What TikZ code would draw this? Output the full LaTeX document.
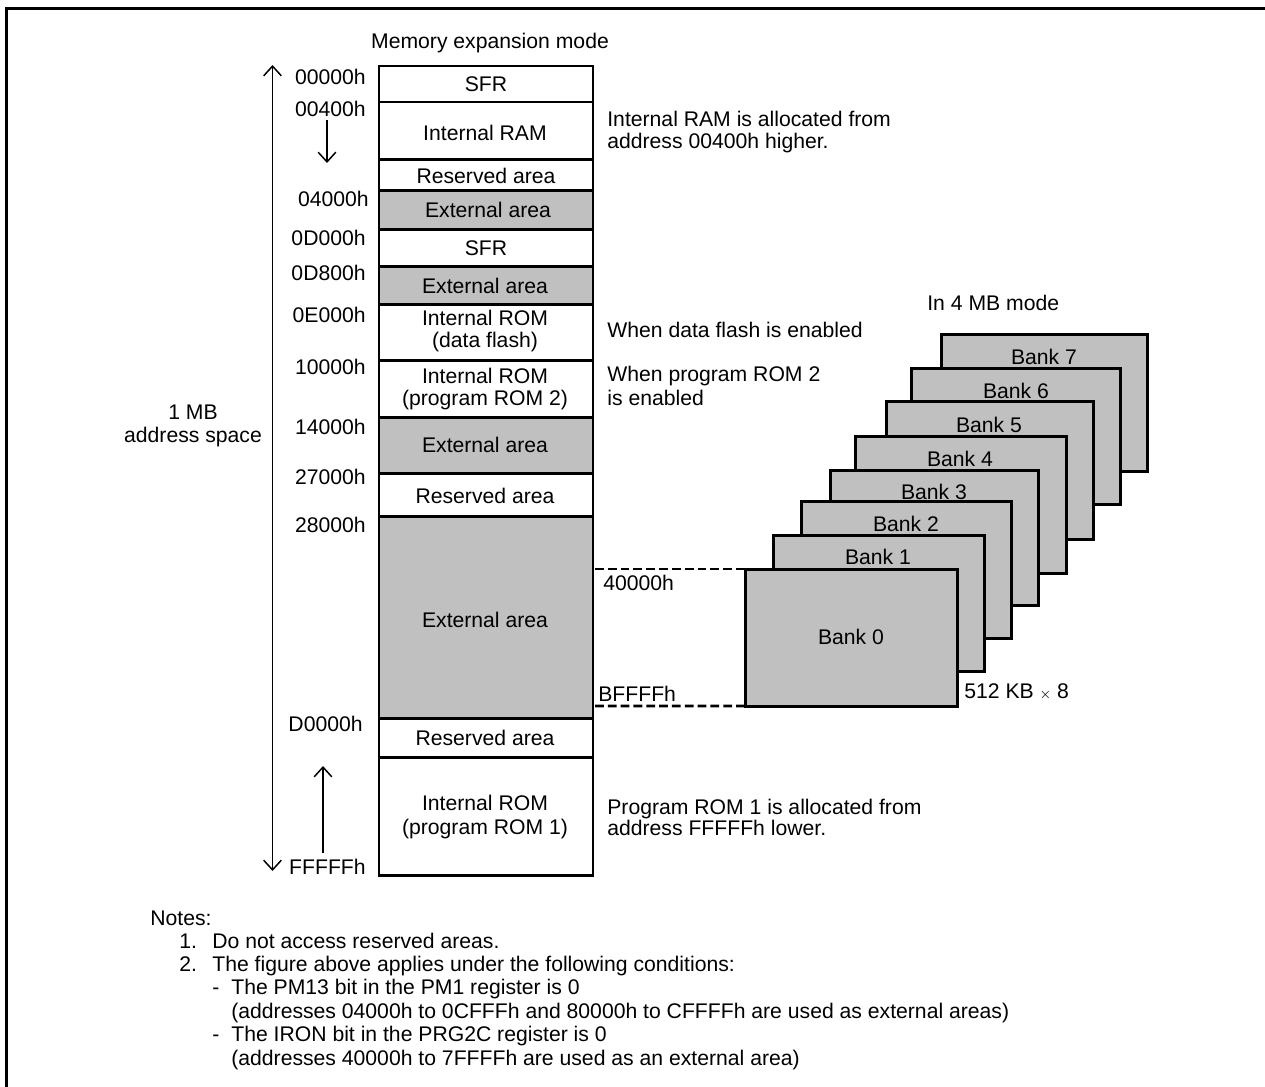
\documentclass[tikz,border=0pt]{standalone}
\usepackage{fontspec}
\setmainfont{Liberation Sans}
\usetikzlibrary{arrows.meta}
\tikzset{
  memrow/.style={draw=black,line width=1.7pt,inner sep=0pt,outer sep=0pt},
  bankbox/.style={draw=black,fill=extgray,line width=1.7pt,inner sep=0pt,outer sep=0pt},
  txt/.style={inner sep=0pt,font=\fontsize{12.05}{13.3}\selectfont,text=black},
  addr/.style={txt,anchor=east},
  note/.style={txt,anchor=west},
  remark/.style={txt,anchor=base west},
  thinarrow/.style={line width=0.85pt,{Straight Barb[length=5.5pt,width=10pt]}-{Straight Barb[length=5.5pt,width=10pt]}},
  onearrow/.style={line width=0.85pt,-{Straight Barb[length=5.5pt,width=10pt]}},
  dashline/.style={line width=1.5pt,dash pattern=on 5pt off 2.3pt}
}
\definecolor{extgray}{HTML}{C0C0C0}
\begin{document}
\begin{tikzpicture}[x=0.02cm,y=-0.02cm]
\useasboundingbox (0,0) rectangle (1265,1086);
% outer frame
\draw [black,line width=1.7pt] (6.5,1090) -- (6.5,8.5) -- (1270,8.5);
% memory map
\foreach \n/\t/\b/\c in {sfra/66/102/white,ram/102/159/white,resa/159/190/white,exta/190/229/extgray,
    sfrb/229/266/white,extb/266/304/extgray,rdata/304/360/white,rprog/360/417/white,extc/417/473/extgray,
    resb/473/516/white,extd/516/718/extgray,resc/718/757/white,rone/757/875/white}
  \node [memrow,fill=\c,minimum width=214*0.02cm,minimum height=(\b-\t)*0.02cm] (\n) at (486,{(\t+\b)/2}) {};
\node [txt] (lsfra) at (486,84) {SFR};
\node [txt] (lram) at (485,133) {Internal RAM};
\node [txt] (lresa) at (486,176) {Reserved area};
\node [txt] (lexta) at (488,210) {External area};
\node [txt] (lsfrb) at (486,248) {SFR};
\node [txt] (lextb) at (485,286) {External area};
\node [txt,align=center] (lrdata) at (485,331) {Internal ROM\\[-1pt](data flash)};
\node [txt,align=center] (lrprog) at (485,389) {Internal ROM\\[-0.4pt](program ROM 2)};
\node [txt] (lextc) at (485,445) {External area};
\node [txt] (lresb) at (485,496) {Reserved area};
\node [txt] (lextd) at (485,620) {External area};
\node [txt] (lresc) at (485,738) {Reserved area};
\node [txt,align=center] (lrone) at (485,817) {Internal ROM\\(program ROM 1)};
\node [txt] (title) at (490,43) {Memory expansion mode};
% addresses
\node [addr] (a0) at (366,77) {00000h};
\node [addr] (a1) at (366,109) {00400h};
\node [addr] (a2) at (369,199) {04000h};
\node [addr] (a3) at (366,238) {0D000h};
\node [addr] (a4) at (366,273) {0D800h};
\node [addr] (a5) at (366,315) {0E000h};
\node [addr] (a6) at (366,367) {10000h};
\node [addr] (a7) at (366,427) {14000h};
\node [addr] (a8) at (366,477) {27000h};
\node [addr] (a9) at (366,525) {28000h};
\node [addr] (a10) at (363,724) {D0000h};
\node [addr] (a11) at (366,867) {FFFFFh};
% arrows
\coordinate (spantop) at (272.5,65);
\coordinate (spanbot) at (272.5,871);
\coordinate (ramtop) at (327,120);
\coordinate (rambot) at (327,163);
\coordinate (romtop) at (323,766);
\coordinate (rombot) at (323,853);
\draw [thinarrow] (spantop) -- (spanbot);
\draw [onearrow] (ramtop) -- (rambot);
\draw [onearrow] (rombot) -- (romtop);
\node [txt,align=center] (span) at (193,426) {1 MB\\address space};
% notes at the side
\node [note,align=left] (nram) at (607,132) {Internal RAM is allocated from\\[-1.3pt]address 00400h higher.};
\node [note] (nflash) at (607,330) {When data flash is enabled};
\node [note,align=left] (nprog) at (607,386) {When program ROM 2\\is enabled};
\node [note,align=left] (none) at (607,817) {Program ROM 1 is allocated from\\[-1.3pt]address FFFFFh lower.};
% banks
\foreach \n/\l/\t/\r/\b in {7/941/334/1147/471,6/911/368/1120/504,5/886/401/1093/539,4/855/436/1066/573,
    3/830/470/1038/605,2/801/501/1011/638,1/773/535/984/671,0/745/569/957/706}
  \node [bankbox,minimum width=(\r-\l)*0.02cm,minimum height=(\b-\t)*0.02cm] (bank\n) at ({(\l+\r)/2},{(\t+\b)/2}) {};
\node [txt] (lb7) at (1044,357) {Bank 7};
\node [txt] (lb6) at (1016,391) {Bank 6};
\node [txt] (lb5) at (989,425) {Bank 5};
\node [txt] (lb4) at (960,459) {Bank 4};
\node [txt] (lb3) at (934,492) {Bank 3};
\node [txt] (lb2) at (906,524) {Bank 2};
\node [txt] (lb1) at (878,557) {Bank 1};
\node [txt] (lb0) at (851,637) {Bank 0};
\node [note] (mode4) at (927,303) {In 4 MB mode};
\node [note] (size) at (964,692) {512 KB {\footnotesize$\times$} 8};
% dashed links
\coordinate (linktop) at (595,569);
\coordinate (linkbot) at (595,706);
\draw [dashline] (linktop) -- (bank0.north west);
\draw [dashline] (linkbot) -- (bank0.south west);
\node [note] (la) at (603,583) {40000h};
\node [note] (lb) at (598,694) {BFFFFh};
% remarks
\node [remark] (n0) at (150,925) {Notes:};
\node [remark] (n1) at (179,948) {1.};
\node [remark] (n1t) at (212,948) {Do not access reserved areas.};
\node [remark] (n2) at (179,971) {2.};
\node [remark] (n2t) at (212,971) {The figure above applies under the following conditions:};
\node [remark] (n3d) at (212,994) {-};
\node [remark] (n3t) at (231,994) {The PM13 bit in the PM1 register is 0};
\node [remark] (n4t) at (231,1018) {(addresses 04000h to 0CFFFh and 80000h to CFFFFh are used as external areas)};
\node [remark] (n5d) at (212,1041) {-};
\node [remark] (n5t) at (231,1041) {The IRON bit in the PRG2C register is 0};
\node [remark] (n6t) at (231,1065) {(addresses 40000h to 7FFFFh are used as an external area)};
\end{tikzpicture}
\end{document}
